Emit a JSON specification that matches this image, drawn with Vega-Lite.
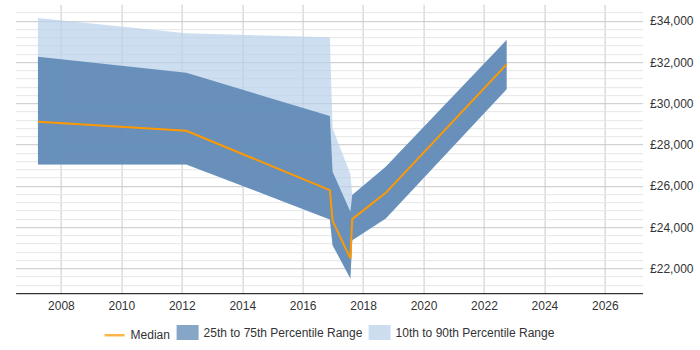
{
  "$schema": "https://vega.github.io/schema/vega-lite/v6.json",
  "autosize": "none",
  "width": 627,
  "height": 289,
  "padding": {"left": 15.6, "top": 4.2, "right": 57.4, "bottom": 56.8},
  "background": "white",
  "config": {
    "view": {"stroke": null},
    "font": "Liberation Sans",
    "axis": {"labelFont": "Liberation Sans", "labelFontSize": 12, "labelColor": "#333333", "title": null}
  },
  "data": {
    "values": [
      {"year": 2007.24, "p10": 27040, "p25": 27040, "median": 29105, "p75": 32255, "p90": 34130},
      {"year": 2012.15, "p10": 27040, "p25": 27040, "median": 28668, "p75": 31480, "p90": 33390},
      {"year": 2016.9, "p10": 24374, "p25": 24374, "median": 25794, "p75": 29380, "p90": 33195},
      {"year": 2016.99, "p10": 23128, "p25": 23128, "median": 24306, "p75": 26680, "p90": 28785},
      {"year": 2017.58, "p10": 21515, "p25": 21515, "median": 22484, "p75": 24742, "p90": 26560},
      {"year": 2017.64, "p10": 23370, "p25": 23370, "median": 24389, "p75": 25552, "p90": 25552},
      {"year": 2018.75, "p10": 24423, "p25": 24423, "median": 25663, "p75": 26923, "p90": 26923},
      {"year": 2022.75, "p10": 30675, "p25": 30675, "median": 31887, "p75": 33065, "p90": 33065}
    ]
  },
  "encoding": {
    "x": {
      "field": "year",
      "type": "quantitative",
      "scale": {"domain": [2006.5, 2027.25], "nice": false, "zero": false},
      "axis": {
        "values": [2008, 2010, 2012, 2014, 2016, 2018, 2020, 2022, 2024, 2026],
        "tickCount": 40,
        "format": "d",
        "grid": true,
        "gridColor": "#cccccc",
        "domainColor": "#000000",
        "domainWidth": 1,
        "ticks": false,
        "labelPadding": 7,
        "labelFlush": false
      }
    }
  },
  "layer": [
    {
      "mark": {"type": "area", "opacity": 0.7},
      "encoding": {
        "y": {
          "field": "p10",
          "type": "quantitative",
          "scale": {"domain": [20800, 34800], "nice": false, "zero": false},
          "axis": {
            "orient": "right",
            "values": [21200, 21600, 22000, 22400, 22800, 23200, 23600, 24000, 24400, 24800, 25200, 25600, 26000, 26400, 26800, 27200, 27600, 28000, 28400, 28800, 29200, 29600, 30000, 30400, 30800, 31200, 31600, 32000, 32400, 32800, 33200, 33600, 34000, 34400],
            "tickCount": 100,
            "labelExpr": "datum.value % 2000 === 0 ? '£' + format(datum.value, ',') : ''",
            "labelOverlap": false,
            "grid": true,
            "gridColor": {"condition": {"test": "datum.value % 2000 === 0", "value": "#c8c8c8"}, "value": "#e6e6e6"},
            "domain": false,
            "ticks": false,
            "labelPadding": 7
          }
        },
        "y2": {"field": "p90"},
        "color": {
          "datum": "10th to 90th Percentile Range",
          "scale": {
            "domain": ["Median", "25th to 75th Percentile Range", "10th to 90th Percentile Range"],
            "range": ["#ff9900", "#5682b2", "#b8d0ea"]
          },
          "legend": {
            "title": null,
            "orient": "none",
            "direction": "horizontal",
            "legendX": 88,
            "legendY": 317,
            "labelFont": "Liberation Sans",
            "labelFontSize": 12,
            "labelColor": "#333333",
            "labelOffset": 5,
            "columnPadding": 2,
            "symbolOpacity": 0.71,
            "encode": {
              "symbols": {
                "update": {
                  "shape": {"signal": "datum.value === 'Median' ? 'stroke' : 'M-1,-0.65H1V0.65H-1Z'"},
                  "fill": {"scale": "color", "field": "value"},
                  "stroke": {"signal": "datum.value === 'Median' ? '#ff9900' : 'transparent'"},
                  "strokeWidth": {"value": 2.5},
                  "size": {"signal": "datum.value === 'Median' ? 400 : 380"}
                }
              }
            }
          }
        }
      }
    },
    {
      "mark": {"type": "area", "opacity": 0.85},
      "encoding": {
        "y": {"field": "p25", "type": "quantitative"},
        "y2": {"field": "p75"},
        "color": {"datum": "25th to 75th Percentile Range"}
      }
    },
    {
      "mark": {"type": "line", "strokeWidth": 2},
      "encoding": {
        "y": {"field": "median", "type": "quantitative"},
        "color": {"datum": "Median"}
      }
    }
  ]
}
